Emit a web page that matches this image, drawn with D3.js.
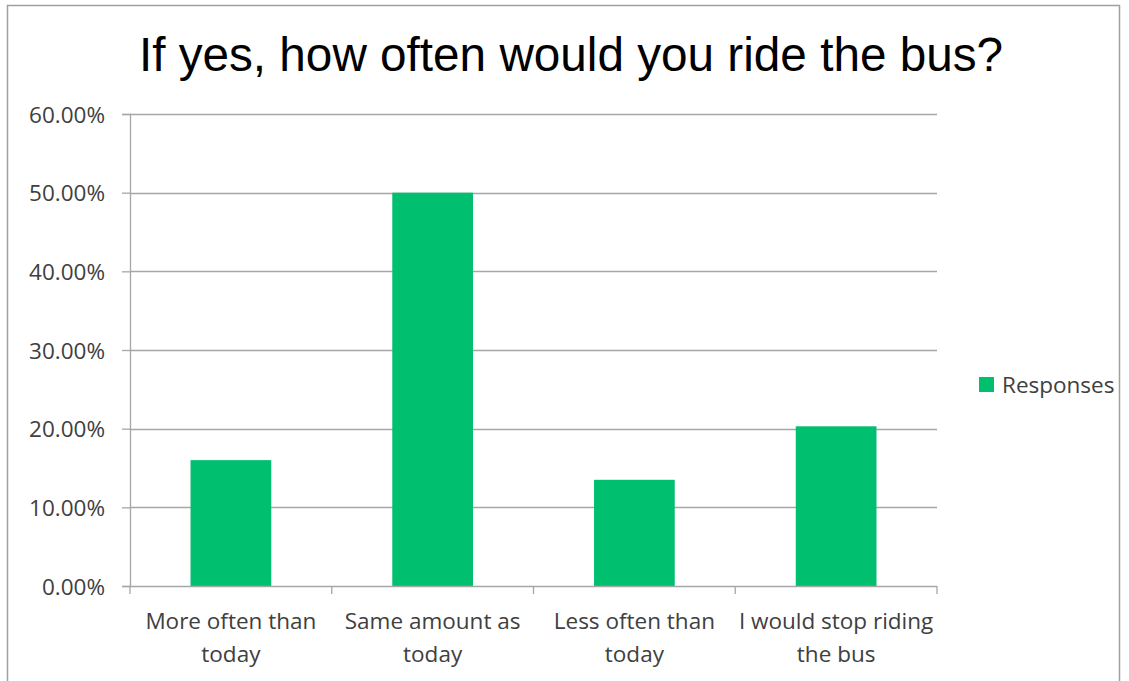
<!DOCTYPE html>
<html>
<head>
<meta charset="utf-8">
<title>If yes, how often would you ride the bus?</title>
<script src="https://cdn.jsdelivr.net/npm/d3@7"></script>
<style>
  body { margin:0; background:white; }
  svg { display:block; }
  .ylab, .xlab, .legend text { font-family:'Open Sans', 'Lato', sans-serif; fill:#404040; font-size:22.5px; }
  .title { font-family:'Liberation Sans', Arial, sans-serif; font-size:47.7px; fill:#000; }
</style>
</head>
<body>
<svg id="chart" width="1129" height="681"></svg>
<script>
// chart data
const categories = [
  ["More often than", "today"],
  ["Same amount as", "today"],
  ["Less often than", "today"],
  ["I would stop riding", "the bus"]
];
const responses = [0.16, 0.50, 0.135, 0.203];
const yTicks = [0, 0.1, 0.2, 0.3, 0.4, 0.5, 0.6];
const seriesName = "Responses";
const titleText = "If yes, how often would you ride the bus?";

const plot = { left: 130, right: 937, top: 114, bottom: 586 };
const green = "#00bf6f";
const gridCol = "#a6a6a6";

const svg = d3.select("#chart");

// outer chart border (clipped by the window like the reference)
svg.append("rect")
  .attr("x", 7.5).attr("y", 5.5)
  .attr("width", 1112).attr("height", 700)
  .attr("fill", "none").attr("stroke", "#a0a0a0").attr("stroke-width", 1.5);

const x = d3.scaleBand()
  .domain(d3.range(categories.length))
  .range([plot.left, plot.right])
  .paddingInner(0.6)
  .paddingOuter(0.3);

const y = d3.scaleLinear()
  .domain([0, 0.6])
  .range([plot.bottom, plot.top]);

// y axis ticks
const yAxis = d3.axisLeft(y)
  .tickValues(yTicks)
  .tickSize(8)
  .tickPadding(17)
  .tickFormat(d => (d * 100).toFixed(2) + "%");

const gy = svg.append("g")
  .attr("transform", `translate(${plot.left},0)`)
  .call(yAxis);
gy.select(".domain").attr("stroke", gridCol).attr("stroke-width", 1.3);
gy.selectAll(".tick line").attr("stroke", gridCol).attr("stroke-width", 1.3);
gy.selectAll(".tick text").attr("class", "ylab").attr("dy", "0.36em");

// gridlines
svg.append("g").selectAll("line")
  .data(yTicks.filter(d => d > 0))
  .join("line")
  .attr("x1", plot.left).attr("x2", plot.right)
  .attr("y1", d => Math.round(y(d)) + 0.5).attr("y2", d => Math.round(y(d)) + 0.5)
  .attr("stroke", gridCol).attr("stroke-width", 1.3);

// bars
svg.append("g").selectAll("rect")
  .data(responses)
  .join("rect")
  .attr("x", (d, i) => x(i))
  .attr("y", d => y(d))
  .attr("width", x.bandwidth())
  .attr("height", d => y(0) - y(d))
  .attr("fill", green);

// x axis, ticks sit on category boundaries
const bounds = d3.range(categories.length + 1).map(i => plot.left + i * (plot.right - plot.left) / categories.length);
svg.append("line")
  .attr("x1", plot.left).attr("x2", plot.right)
  .attr("y1", plot.bottom + 0.5).attr("y2", plot.bottom + 0.5)
  .attr("stroke", gridCol).attr("stroke-width", 1.3);
svg.append("g").selectAll("line")
  .data(bounds)
  .join("line")
  .attr("x1", d => d).attr("x2", d => d)
  .attr("y1", plot.bottom).attr("y2", plot.bottom + 8)
  .attr("stroke", gridCol).attr("stroke-width", 1.3);

const xl = svg.append("g").selectAll("text")
  .data(categories)
  .join("text")
  .attr("class", "xlab")
  .attr("text-anchor", "middle")
  .attr("x", (d, i) => x(i) + x.bandwidth() / 2)
  .attr("y", 629);
xl.selectAll("tspan")
  .data(d => d)
  .join("tspan")
  .attr("x", function() { return d3.select(this.parentNode).attr("x"); })
  .attr("dy", (d, i) => i === 0 ? 0 : 33)
  .text(d => d);

// title
svg.append("text")
  .attr("class", "title")
  .attr("x", 571).attr("y", 70.5)
  .attr("text-anchor", "middle")
  .text(titleText);

// legend
const lg = svg.append("g").attr("class", "legend").attr("transform", "translate(979,377)");
lg.append("rect").attr("width", 15).attr("height", 15).attr("fill", green);
lg.append("text").attr("x", 23).attr("y", 8).attr("dy", "0.36em").text(seriesName);
</script>
</body>
</html>
